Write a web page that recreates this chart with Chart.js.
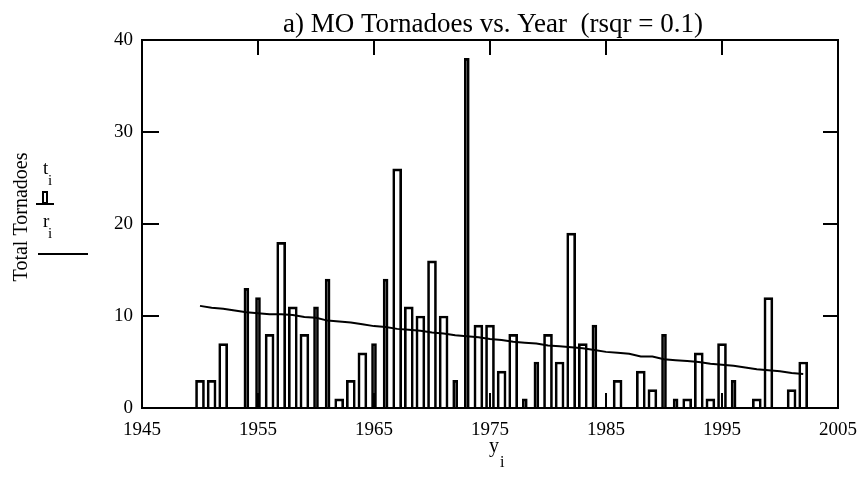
<!DOCTYPE html>
<html>
<head>
<meta charset="utf-8">
<title>MO Tornadoes vs. Year</title>
<script src="https://cdn.jsdelivr.net/npm/chart.js@4.4.1/dist/chart.umd.min.js"></script>
<style>
  html, body { margin: 0; padding: 0; background: #fff; }
  #wrap { width: 868px; height: 480px; }
</style>
</head>
<body>
<div id="wrap"><canvas id="chart"></canvas></div>
<script>
'use strict';

// ***** DATA *****
let years = [1950, 1951, 1952, 1953, 1954, 1955, 1956, 1957, 1958, 1959,
             1960, 1961, 1962, 1963, 1964, 1965, 1966, 1967, 1968, 1969,
             1970, 1971, 1972, 1973, 1974, 1975, 1976, 1977, 1978, 1979,
             1980, 1981, 1982, 1983, 1984, 1985, 1986, 1987, 1988, 1989,
             1990, 1991, 1992, 1993, 1994, 1995, 1996, 1997, 1998, 1999,
             2000, 2001, 2002];

// t_i : total tornadoes per year
let tornadoes = [3, 3, 7, 0, 13, 12, 8, 18, 11, 8,
                 11, 14, 1, 3, 6, 7, 14, 26, 11, 10,
                 16, 10, 3, 38, 9, 9, 4, 8, 1, 5,
                 8, 5, 19, 7, 9, 0, 3, 0, 4, 2,
                 8, 1, 1, 6, 1, 7, 3, 0, 1, 12,
                 0, 2, 5];

// r_i : trend line
let trend = [11.1, 10.9, 10.8, 10.6, 10.4, 10.3, 10.2, 10.2, 10.1, 9.9,
             9.8, 9.5, 9.4, 9.3, 9.1, 8.9, 8.8, 8.6, 8.5, 8.4,
             8.2, 8.1, 7.9, 7.8, 7.7, 7.5, 7.4, 7.2, 7.1, 7.0,
             6.8, 6.7, 6.6, 6.5, 6.3, 6.1, 6.0, 5.9, 5.6, 5.6,
             5.3, 5.2, 5.1, 5.0, 4.8, 4.7, 4.6, 4.4, 4.2, 4.1,
             4.0, 3.8, 3.7];

let xTicks = [1945, 1955, 1965, 1975, 1985, 1995, 2005];
let yTicks = [0, 10, 20, 30, 40];

// ***** STYLE *****
// years whose bars come out thin in the original plot
let thinYears = [1954, 1955, 1960, 1961, 1965, 1966, 1972, 1973, 1978, 1979, 1984, 1990, 1991, 1996];
let serif = '"Liberation Serif", "Times New Roman", serif';

Chart.defaults.font.family = serif;
Chart.defaults.color = '#000';

let chartElem = document.getElementById('chart');

function barPoints(thin) {
    let pts = [];
    for (let i = 0; i < years.length; i++) {
        if (thinYears.includes(years[i]) === thin) {
            pts.push({x: years[i], y: tornadoes[i]});
        }
    }
    return pts;
}

let trendPoints = years.map((yr, i) => ({x: yr, y: trend[i]}));

// ***** PLUGIN: frame, inner ticks, titles, legend *****
let decor = {
    id: 'decor',
    afterDatasetsDraw(chart) {
        let ctx = chart.ctx;
        let area = chart.chartArea;
        let xs = chart.scales.x;
        let ys = chart.scales.y;
        ctx.save();
        ctx.strokeStyle = '#000';
        ctx.lineWidth = 2;
        ctx.beginPath();
        for (let v of xTicks.slice(1, -1)) {
            let px = Math.round(xs.getPixelForValue(v));
            ctx.moveTo(px, area.top);
            ctx.lineTo(px, area.top + 15);
            ctx.moveTo(px, area.bottom);
            ctx.lineTo(px, area.bottom - 15);
        }
        for (let v of yTicks.slice(1, -1)) {
            let py = Math.round(ys.getPixelForValue(v));
            ctx.moveTo(area.left, py);
            ctx.lineTo(area.left + 17, py);
            ctx.moveTo(area.right, py);
            ctx.lineTo(area.right - 15, py);
        }
        ctx.stroke();
        ctx.strokeRect(area.left, area.top, area.right - area.left, area.bottom - area.top);
        ctx.restore();
    },
    afterDraw(chart) {
        let ctx = chart.ctx;
        let area = chart.chartArea;
        ctx.save();
        ctx.fillStyle = '#000';
        ctx.strokeStyle = '#000';

        // title
        ctx.font = '27px ' + serif;
        ctx.textAlign = 'center';
        ctx.textBaseline = 'alphabetic';
        ctx.fillText('a) MO Tornadoes vs. Year  (rsqr = 0.1)', (area.left + area.right) / 2 + 3, 32);

        // x axis label y_i
        ctx.textAlign = 'left';
        ctx.font = '20px ' + serif;
        ctx.fillText('y', 489, 452);
        ctx.font = '16px ' + serif;
        ctx.fillText('i', 500, 467);

        // y axis label
        ctx.save();
        ctx.translate(27, 217);
        ctx.rotate(-Math.PI / 2);
        ctx.textAlign = 'center';
        ctx.font = '20px ' + serif;
        ctx.fillText('Total Tornadoes', 0, 0);
        ctx.restore();

        // legend entries
        ctx.font = '19px ' + serif;
        ctx.fillText('t', 43, 174);
        ctx.fillText('r', 43, 227);
        ctx.font = '15px ' + serif;
        ctx.fillText('i', 48, 185);
        ctx.fillText('i', 48, 238);

        ctx.lineWidth = 2;
        ctx.strokeRect(43, 192, 4, 11);
        ctx.beginPath();
        ctx.moveTo(36, 204);
        ctx.lineTo(54, 204);
        ctx.moveTo(38, 254);
        ctx.lineTo(88, 254);
        ctx.stroke();
        ctx.restore();
    }
};

// ***** CHART *****
let chartObj = {
    type: 'bar',
    data: {
        datasets: [{
            label: 't',
            data: barPoints(false),
            backgroundColor: 'rgba(0,0,0,0)',
            borderColor: '#000',
            borderWidth: 2,
            borderSkipped: 'start',
            barThickness: 9,
            grouped: false
        },
        {
            label: 't thin',
            data: barPoints(true),
            backgroundColor: 'rgba(0,0,0,0)',
            borderColor: '#000',
            borderWidth: 2,
            borderSkipped: 'start',
            barThickness: 5,
            grouped: false
        },
        {
            type: 'line',
            label: 'r',
            data: trendPoints,
            borderColor: '#000',
            borderWidth: 2,
            pointRadius: 0,
            tension: 0,
            fill: false
        }]
    },
    options: {
        responsive: true,
        maintainAspectRatio: false,
        animation: false,
        devicePixelRatio: 1,
        layout: {
            padding: {left: 0, right: 28, top: 40, bottom: 0}
        },
        plugins: {
            legend: {display: false},
            title: {display: false},
            tooltip: {enabled: false}
        },
        scales: {
            x: {
                type: 'linear',
                min: 1945,
                max: 2005,
                offset: false,
                grid: {display: false, drawTicks: false, offset: false},
                border: {display: false},
                afterBuildTicks: axis => { axis.ticks = xTicks.map(v => ({value: v})); },
                afterFit: axis => { axis.height = 72; },
                ticks: {
                    autoSkip: false,
                    maxRotation: 0,
                    padding: 11,
                    font: {size: 19, family: serif},
                    callback: v => String(v)
                }
            },
            y: {
                type: 'linear',
                min: 0,
                max: 40,
                grid: {display: false, drawTicks: false},
                border: {display: false},
                afterBuildTicks: axis => { axis.ticks = yTicks.map(v => ({value: v})); },
                afterFit: axis => { axis.width = 142; },
                ticks: {
                    padding: 9,
                    font: {size: 19, family: serif}
                }
            }
        }
    },
    plugins: [decor]
};

new Chart(chartElem, chartObj);
</script>
</body>
</html>
